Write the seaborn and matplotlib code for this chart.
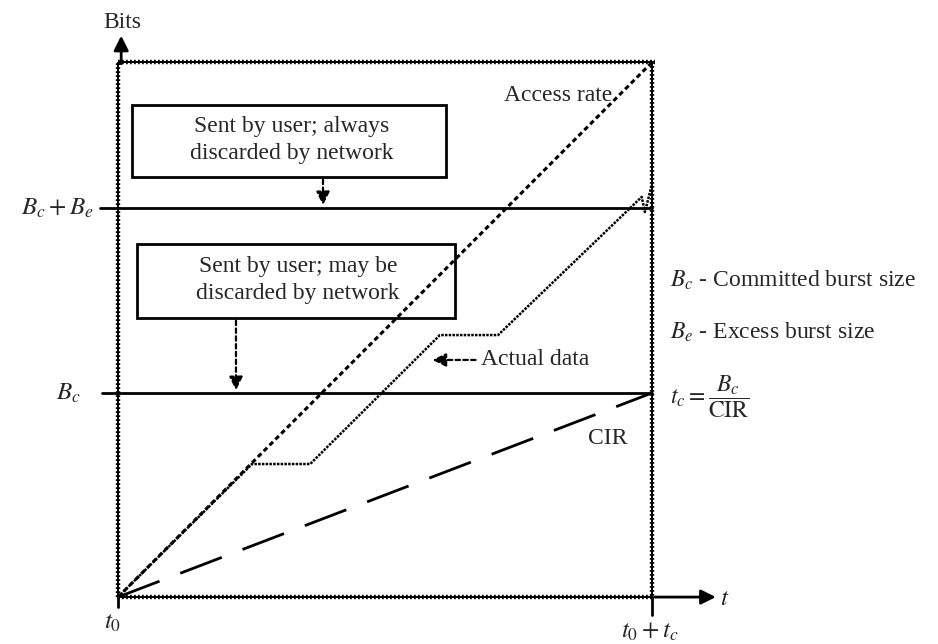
import numpy as np
import pandas as pd
import matplotlib.pyplot as plt
import seaborn as sns

# time as fraction of tc, bits in units of Bc
bc_level = 1.0
bce_level = 1.907
top_level = 2.62

access_t = [0.0, 1.0]
access_bits = [0.0, top_level]

cir_t = [0.0, 1.0]
cir_bits = [0.0, bc_level]

actual_t = [0.0, 0.251, 0.360, 0.603, 0.712, 0.981, 0.987, 1.0]
actual_bits = [0.0, 0.652, 0.652, 1.284, 1.284, 1.961, 1.887, 2.02]

sns.set_theme(style="white")
plt.rcParams['font.family'] = ['Liberation Serif', 'DejaVu Serif']
plt.rcParams['mathtext.fontset'] = 'stix'

fig = plt.figure(figsize=(9.38, 6.44), dpi=100)
ax = fig.add_axes([0, 0, 1, 1])
ax.set_xlim(-0.221, 1.536)
ax.set_ylim(-0.230, 2.926)
ax.axis('off')

# frame: thick dotted borders
for xs, ys in [([0, 1.005], [top_level, top_level]),
               ([1, 1], [top_level, 0]),
               ([0, 1], [0, 0]),
               ([0, 0], [0, top_level])]:
    ax.plot(xs, ys, color='black', lw=1.4, solid_capstyle='butt')
    ax.plot(xs, ys, color='black', lw=3.2, linestyle=(0, (0.4, 0.5)))

# axes arrows
ax.annotate('', xy=(0.006, 2.765), xytext=(0.006, top_level - 0.02),
            arrowprops=dict(arrowstyle='-|>', color='black', lw=2, mutation_scale=22))
ax.annotate('', xy=(1.125, 0), xytext=(1.0, 0),
            arrowprops=dict(arrowstyle='-|>', color='black', lw=2, mutation_scale=22))
ax.plot([0, 0], [0, -0.05], color='black', lw=2)
ax.plot([1, 1], [0, -0.09], color='black', lw=2)

# Bc and Bc+Be levels
ax.plot([-0.034, 1], [bce_level, bce_level], color='black', lw=2)
ax.plot([-0.03, 1], [bc_level, bc_level], color='black', lw=2)

# data lines
sns.lineplot(x=access_t, y=access_bits, sort=False, ax=ax, color='black',
             lw=2.2, linestyle=(0, (1.6, 1.1)))
sns.lineplot(x=cir_t, y=cir_bits, sort=False, ax=ax, color='black',
             lw=2, linestyle=(0, (16, 8)))
sns.lineplot(x=actual_t, y=actual_bits, sort=False, ax=ax, color='black',
             lw=1.8, linestyle=(0, (1.0, 0.5)))

# boxes
fs = 17
box1 = plt.Rectangle((0.026, 2.059), 0.588, 0.353, fill=False, lw=2, ec='black')
box2 = plt.Rectangle((0.036, 1.368), 0.595, 0.362, fill=False, lw=2, ec='black')
ax.add_patch(box1)
ax.add_patch(box2)
ax.text(0.325, 2.24, 'Sent by user; always\ndiscarded by network', ha='center',
        va='center', fontsize=fs, linespacing=1.35)
ax.text(0.337, 1.555, 'Sent by user; may be\ndiscarded by network', ha='center',
        va='center', fontsize=fs, linespacing=1.35)
arrow_dash = dict(arrowstyle='-|>', color='black', lw=1.6,
                  linestyle=(0, (2, 1.5)), mutation_scale=20)
ax.annotate('', xy=(0.384, bce_level), xytext=(0.384, 2.059), arrowprops=arrow_dash)
ax.annotate('', xy=(0.221, bc_level), xytext=(0.221, 1.368), arrowprops=arrow_dash)
ax.annotate('', xy=(0.584, 1.162), xytext=(0.675, 1.162), arrowprops=arrow_dash)

# labels
ax.text(0.009, 2.818, 'Bits', ha='center', va='center', fontsize=fs)
ax.text(0.825, 2.456, 'Access rate', ha='center', va='center', fontsize=fs)
ax.text(0.68, 1.162, 'Actual data', ha='left', va='center', fontsize=fs)
ax.text(0.918, 0.779, 'CIR', ha='center', va='center', fontsize=fs)
ax.text(-0.045, bce_level, '$B_c + B_e$', ha='right', va='center', fontsize=fs + 1)
ax.text(-0.07, bc_level, '$B_c$', ha='right', va='center', fontsize=fs + 1)
ax.text(-0.011, -0.127, '$t_0$', ha='center', va='center', fontsize=fs + 1)
ax.text(0.996, -0.17, '$t_0 + t_c$', ha='center', va='center', fontsize=fs + 1)
ax.text(1.137, -0.01, '$t$', ha='center', va='center', fontsize=fs + 1)
ax.text(1.034, 1.554, '$B_c$ - Committed burst size', ha='left', va='center', fontsize=fs)
ax.text(1.034, 1.299, '$B_e$ - Excess burst size', ha='left', va='center', fontsize=fs)
ax.text(1.034, 0.98, r'$t_c = \dfrac{B_c}{\mathrm{CIR}}$', ha='left', va='center', fontsize=fs)

fig.savefig('out.png', dpi=100)
